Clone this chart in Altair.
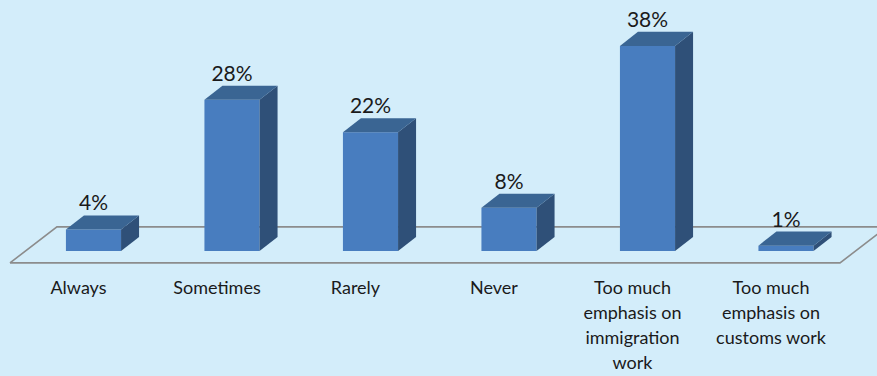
import altair as alt
import pandas as pd

# ---- data ----
categories = [
    "Always",
    "Sometimes",
    "Rarely",
    "Never",
    "Too much\nemphasis on\nimmigration\nwork",
    "Too much\nemphasis on\ncustoms work",
]
values = [4, 28, 22, 8, 38, 1]
value_labels = ["4%", "28%", "22%", "8%", "38%", "1%"]

# ---- geometry (category-index units on x, percent units on y) ----
HALF = 0.199      # half width of a bar's front face
DX, DY = 0.13, 2.6  # 3D depth offset of the bars
FLOOR_X0, FLOOR_X1 = -0.603, 5.39   # floor front edge
FLOOR_Y0, FLOOR_DEPTH_X, FLOOR_DEPTH_Y = -2.2, 0.339, 6.67
LABEL_Y = -8.0
X_DOM = [-0.675, 5.657]
Y_DOM = [-23.15, 46.5]

FRONT = "#487DBF"
TOP = "#3A6593"
SIDE = "#2F5078"
BG = "#D3EDFA"

xs = alt.Scale(domain=X_DOM, nice=False, zero=False)
ys = alt.Scale(domain=Y_DOM, nice=False, zero=False)

idx = list(range(len(categories)))

front = pd.DataFrame({
    "x": [i - HALF for i in idx],
    "x2": [i + HALF for i in idx],
    "y": [0] * len(idx),
    "y2": values,
})

side_rows, top_rows = [], []
for i, v in zip(idx, values):
    side_rows.append({"bar": i, "x": i + HALF, "top": v, "bot": 0})
    side_rows.append({"bar": i, "x": i + HALF + DX, "top": v + DY, "bot": DY})
    top_rows.append({"bar": i, "y": v, "l": i - HALF, "r": i + HALF})
    top_rows.append({"bar": i, "y": v + DY, "l": i - HALF + DX, "r": i + HALF + DX})
side = pd.DataFrame(side_rows)
top = pd.DataFrame(top_rows)

floor = pd.DataFrame({
    "o": [0, 1, 2, 3, 4],
    "x": [FLOOR_X0, FLOOR_X1, FLOOR_X1 + FLOOR_DEPTH_X, FLOOR_X0 + FLOOR_DEPTH_X, FLOOR_X0],
    "y": [FLOOR_Y0, FLOOR_Y0, FLOOR_Y0 + FLOOR_DEPTH_Y, FLOOR_Y0 + FLOOR_DEPTH_Y, FLOOR_Y0],
})

vals = pd.DataFrame({"x": idx, "y": values, "t": value_labels})
cats = pd.DataFrame({"x": idx, "y": [LABEL_Y] * len(idx), "t": categories})

floor_l = alt.Chart(floor).mark_line(color="#8C8C8C", strokeWidth=1.6, clip=True).encode(
    x=alt.X("x:Q", scale=xs, axis=None),
    y=alt.Y("y:Q", scale=ys, axis=None),
    order="o:Q",
)

front_l = alt.Chart(front).mark_rect(color=FRONT).encode(
    x=alt.X("x:Q", scale=xs, axis=None), x2="x2:Q",
    y=alt.Y("y:Q", scale=ys, axis=None), y2="y2:Q",
)

side_l = alt.Chart(side).mark_area(color=SIDE, orient="vertical").encode(
    x=alt.X("x:Q", scale=xs, axis=None),
    y=alt.Y("top:Q", scale=ys, axis=None), y2="bot:Q",
    detail="bar:N",
)

top_l = alt.Chart(top).mark_area(color=TOP, orient="horizontal").encode(
    y=alt.Y("y:Q", scale=ys, axis=None),
    x=alt.X("l:Q", scale=xs, axis=None), x2="r:Q",
    detail="bar:N",
)

val_l = alt.Chart(vals).mark_text(
    font="Lato", fontSize=21, color="#1A1A1A", baseline="alphabetic", align="center", dy=-19
).encode(
    x=alt.X("x:Q", scale=xs, axis=None),
    y=alt.Y("y:Q", scale=ys, axis=None),
    text="t:N",
)

cat_l = alt.Chart(cats).mark_text(
    font="Lato", fontSize=18, color="#1A1A1A", baseline="alphabetic", align="center",
    lineBreak="\n", lineHeight=25, dx=-15
).encode(
    x=alt.X("x:Q", scale=xs, axis=None),
    y=alt.Y("y:Q", scale=ys, axis=None),
    text="t:N",
)

chart = alt.layer(floor_l, front_l, side_l, top_l, val_l, cat_l).properties(
    width=877, height=376,
    autosize=alt.AutoSizeParams(type="none"),
    padding=0,
    background=BG,
).configure_view(stroke=None)

chart.save("out.html", embed_options={"renderer": "svg", "actions": False})
